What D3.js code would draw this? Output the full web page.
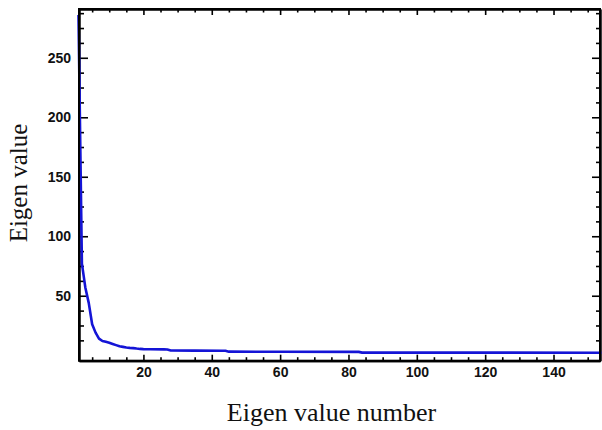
<!DOCTYPE html>
<html>
<head>
<meta charset="utf-8">
<script src="https://cdn.jsdelivr.net/npm/d3@7"></script>
<style>
  html, body { margin: 0; padding: 0; background: #fff; }
  svg { display: block; }
</style>
</head>
<body>
<svg id="chart" width="602" height="430"></svg>
<script>
// ---- data ----
const eigIndex = [1, 2, 3, 4, 5, 6, 7, 8, 9, 10, 11, 12, 13, 14, 15, 16, 17, 18, 19, 20,
                  22, 26, 27, 28, 35, 43, 44, 45, 60, 83, 84, 120, 154];
const eigValue = [286, 77, 57, 44, 26, 19, 14, 12, 11.3, 10.5, 9.5, 8.5, 7.5, 7, 6.5, 6.2, 6, 5.6, 5.3, 5.1,
                  5.0, 4.9, 4.8, 4.0, 3.9, 3.8, 3.7, 3.0, 2.9, 2.8, 2.2, 2.2, 2.1];
const xTicks = [20, 40, 60, 80, 100, 120, 140];
const yTicks = [50, 100, 150, 200, 250];
const xTitle = "Eigen value number";
const yTitle = "Eigen value";

// ---- layout ----
const svg = d3.select("#chart");
const mLeft = 79, mRight = 600, mTop = 9, mBottom = 360.7;

const x = d3.scaleLinear().domain([1.15, 153.6]).range([mLeft, mRight]);
const y = d3.scaleLinear().domain([-4.6, 291]).range([mBottom, mTop]);

const xMinor = d3.range(5, 154, 5).filter(v => v % 20 !== 0);
const yMinor = d3.range(0, 291, 12.5).filter(v => v % 50 !== 0);

const tickFont = "bold 14px 'Liberation Sans', Arial, Helvetica, sans-serif";

// bottom axis (ticks inward)
svg.append("g").attr("transform", `translate(0,${mBottom})`)
  .call(d3.axisBottom(x).tickValues(xTicks).tickSize(-6).tickPadding(6).tickSizeOuter(0));
svg.append("g").attr("transform", `translate(0,${mBottom})`)
  .call(d3.axisBottom(x).tickValues(xMinor).tickSize(-3.5).tickFormat("").tickSizeOuter(0));
// top axis
svg.append("g").attr("transform", `translate(0,${mTop})`)
  .call(d3.axisTop(x).tickValues(xTicks).tickSize(-6).tickFormat("").tickSizeOuter(0));
svg.append("g").attr("transform", `translate(0,${mTop})`)
  .call(d3.axisTop(x).tickValues(xMinor).tickSize(-3.5).tickFormat("").tickSizeOuter(0));
// left axis
svg.append("g").attr("transform", `translate(${mLeft},0)`)
  .call(d3.axisLeft(y).tickValues(yTicks).tickSize(-9).tickPadding(8).tickSizeOuter(0));
svg.append("g").attr("transform", `translate(${mLeft},0)`)
  .call(d3.axisLeft(y).tickValues(yMinor).tickSize(-5).tickFormat("").tickSizeOuter(0));
// right axis
svg.append("g").attr("transform", `translate(${mRight},0)`)
  .call(d3.axisRight(y).tickValues(yTicks).tickSize(-8).tickFormat("").tickSizeOuter(0));
svg.append("g").attr("transform", `translate(${mRight},0)`)
  .call(d3.axisRight(y).tickValues(yMinor).tickSize(-4).tickFormat("").tickSizeOuter(0));

svg.selectAll(".domain").attr("stroke", "#000").attr("stroke-width", 2);
svg.selectAll(".tick line").attr("stroke", "#000").attr("stroke-width", 1.6);
svg.selectAll(".tick text").style("font", tickFont).attr("fill", "#111");

// curve
const line = d3.line().x((d, i) => x(eigIndex[i])).y(d => y(d));
svg.append("path")
  .datum(eigValue)
  .attr("d", line)
  .attr("fill", "none")
  .attr("stroke", "#1414d6")
  .attr("stroke-width", 2.6)
  .attr("stroke-linejoin", "round");

// frame drawn on top
svg.append("rect")
  .attr("x", mLeft).attr("y", mTop)
  .attr("width", mRight - mLeft).attr("height", mBottom - mTop)
  .attr("fill", "none").attr("stroke", "#000").attr("stroke-width", 2);

// titles
svg.append("text")
  .attr("x", 331.5).attr("y", 421)
  .attr("text-anchor", "middle")
  .style("font", "26px 'Liberation Serif', 'Times New Roman', serif")
  .attr("fill", "#111")
  .text(xTitle);

svg.append("text")
  .attr("transform", "translate(27,183) rotate(-90)")
  .attr("text-anchor", "middle")
  .style("font", "25px 'Liberation Serif', 'Times New Roman', serif")
  .attr("fill", "#111")
  .text(yTitle);
</script>
</body>
</html>
